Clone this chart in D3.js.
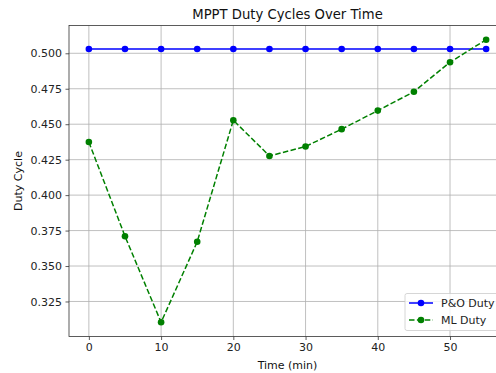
<!DOCTYPE html>
<html>
<head>
<meta charset="utf-8">
<script src="https://cdn.jsdelivr.net/npm/d3@7"></script>
<style>
  body { margin: 0; background: #fff; }
  svg { display: block; font-family: "DejaVu Sans", sans-serif; }
</style>
</head>
<body>
<script>
var times = [0, 5, 10, 15, 20, 25, 30, 35, 40, 45, 50, 55];
var poDuty = [0.503, 0.503, 0.503, 0.503, 0.503, 0.503, 0.503, 0.503, 0.503, 0.503, 0.503, 0.503];
var mlDuty = [0.4374, 0.371, 0.3103, 0.3671, 0.4528, 0.4276, 0.4343, 0.4465, 0.4596, 0.4729, 0.4937, 0.5096];
var xTicks = [0, 10, 20, 30, 40, 50];
var yTicks = [0.325, 0.350, 0.375, 0.400, 0.425, 0.450, 0.475, 0.500];

var W = 496, H = 373;
var pLeft = 69, pRight = 506, pTop = 25.5, pBottom = 336.5;

var svg = d3.select("body").append("svg")
    .attr("width", W)
    .attr("height", H);

var x = d3.scaleLinear().domain([-2.75, 57.75]).range([pLeft, pRight]);
var y = d3.scaleLinear().domain([0.3003, 0.5196]).range([pBottom, pTop]);

// grid
var grid = svg.append("g");
grid.selectAll(".gx").data(xTicks).enter().append("line")
    .attr("x1", d => x(d)).attr("x2", d => x(d))
    .attr("y1", pTop).attr("y2", pBottom)
    .attr("stroke", "#b0b0b0").attr("stroke-width", 0.8);
grid.selectAll(".gy").data(yTicks).enter().append("line")
    .attr("x1", pLeft).attr("x2", pRight)
    .attr("y1", d => y(d)).attr("y2", d => y(d))
    .attr("stroke", "#b0b0b0").attr("stroke-width", 0.8);

// axes
var xAxis = d3.axisBottom(x).tickValues(xTicks).tickSize(3.5).tickPadding(3.5).tickFormat(d3.format("d"));
var yAxis = d3.axisLeft(y).tickValues(yTicks).tickSize(3.5).tickPadding(3.5).tickFormat(d3.format(".3f"));

var gx = svg.append("g").attr("transform", "translate(0," + pBottom + ")").call(xAxis);
var gy = svg.append("g").attr("transform", "translate(" + pLeft + ",0)").call(yAxis);
[gx, gy].forEach(function(g) {
  g.select(".domain").remove();
  g.selectAll(".tick line").attr("stroke", "#333").attr("stroke-width", 0.8);
  g.selectAll(".tick text").attr("fill", "#222").style("font-size", "11px").style("font-family", "DejaVu Sans");
});

// spines
svg.append("rect")
    .attr("x", pLeft).attr("y", pTop)
    .attr("width", pRight - pLeft).attr("height", pBottom - pTop)
    .attr("fill", "none").attr("stroke", "#333").attr("stroke-width", 0.8);

// lines
var line = d3.line().x((d, i) => x(times[i])).y(d => y(d));

svg.append("path").datum(poDuty)
    .attr("d", line).attr("fill", "none")
    .attr("stroke", "#0000ff").attr("stroke-width", 1.5);
svg.append("g").selectAll("circle").data(poDuty).enter().append("circle")
    .attr("cx", (d, i) => x(times[i])).attr("cy", d => y(d)).attr("r", 3.3)
    .attr("fill", "#0000ff");

svg.append("path").datum(mlDuty)
    .attr("d", line).attr("fill", "none")
    .attr("stroke", "#008000").attr("stroke-width", 1.5)
    .attr("stroke-dasharray", "5.5,2.4");
svg.append("g").selectAll("circle").data(mlDuty).enter().append("circle")
    .attr("cx", (d, i) => x(times[i])).attr("cy", d => y(d)).attr("r", 3.3)
    .attr("fill", "#008000");

// title and labels
svg.append("text")
    .attr("x", (pLeft + pRight) / 2).attr("y", 18.5)
    .attr("text-anchor", "middle")
    .style("font-size", "13.2px").attr("fill", "#111")
    .text("MPPT Duty Cycles Over Time");

svg.append("text")
    .attr("x", (pLeft + pRight) / 2).attr("y", 369)
    .attr("text-anchor", "middle")
    .style("font-size", "11px").attr("fill", "#111")
    .text("Time (min)");

svg.append("text")
    .attr("transform", "translate(22," + ((pTop + pBottom) / 2) + ") rotate(-90)")
    .attr("text-anchor", "middle")
    .style("font-size", "11px").attr("fill", "#111")
    .text("Duty Cycle");

// legend
var legendItems = [
  { label: "P&O Duty", color: "#0000ff", dash: null },
  { label: "ML Duty", color: "#008000", dash: "5.5,2.4" }
];
var lg = svg.append("g").attr("transform", "translate(405,293.5)");
lg.append("rect")
    .attr("width", 97).attr("height", 37).attr("rx", 2)
    .attr("fill", "#fff").attr("fill-opacity", 0.8)
    .attr("stroke", "#ccc").attr("stroke-width", 0.8);
legendItems.forEach(function(it, i) {
  var cy = 9.5 + i * 17;
  lg.append("line")
      .attr("x1", 4).attr("x2", 28).attr("y1", cy).attr("y2", cy)
      .attr("stroke", it.color).attr("stroke-width", 1.5)
      .attr("stroke-dasharray", it.dash);
  lg.append("circle").attr("cx", 16).attr("cy", cy).attr("r", 3.3).attr("fill", it.color);
  lg.append("text").attr("x", 36).attr("y", cy + 4)
      .style("font-size", "11px").attr("fill", "#222")
      .text(it.label);
});
</script>
</body>
</html>
